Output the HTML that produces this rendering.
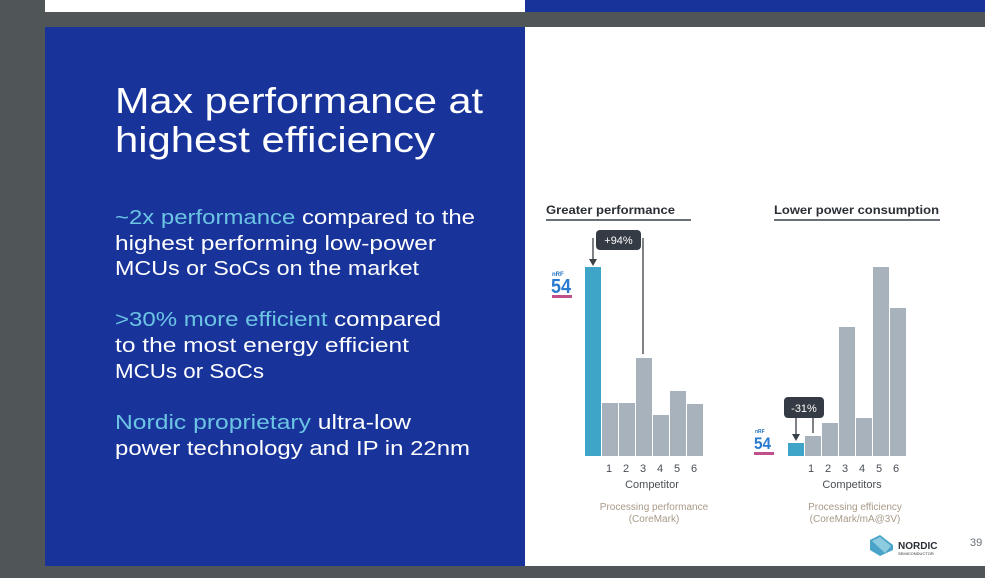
<!DOCTYPE html>
<html><head><meta charset="utf-8"><style>
html,body{margin:0;padding:0;background:#505558;}
svg{display:block;font-family:"Liberation Sans",sans-serif;}
</style></head><body>
<svg width="985" height="578" viewBox="0 0 985 578" xmlns="http://www.w3.org/2000/svg">
<rect width="985" height="578" fill="#505558"/>
<rect x="45" y="0" width="480" height="12" fill="#fff"/>
<rect x="525" y="0" width="460" height="12" fill="#18339a"/>
<rect x="45" y="27" width="480" height="539" fill="#18339a"/>
<rect x="525" y="27" width="460" height="539" fill="#fff"/>
<g fill="#fff" font-size="36">
<text x="115" y="113" textLength="368" lengthAdjust="spacingAndGlyphs">Max performance at</text>
<text x="115" y="152" textLength="320" lengthAdjust="spacingAndGlyphs">highest efficiency</text>
</g>
<g fill="#fff" font-size="20">
<text x="115" y="224" textLength="360" lengthAdjust="spacingAndGlyphs"><tspan fill="#6cc4e4">~2x performance</tspan> compared to the</text>
<text x="115" y="250" textLength="321" lengthAdjust="spacingAndGlyphs">highest performing low-power</text>
<text x="115" y="275" textLength="304" lengthAdjust="spacingAndGlyphs">MCUs or SoCs on the market</text>
<text x="115" y="326" textLength="326" lengthAdjust="spacingAndGlyphs"><tspan fill="#6cc4e4">&gt;30% more efficient</tspan> compared</text>
<text x="115" y="352" textLength="294" lengthAdjust="spacingAndGlyphs">to the most energy efficient</text>
<text x="115" y="378" textLength="149" lengthAdjust="spacingAndGlyphs">MCUs or SoCs</text>
<text x="115" y="429" textLength="296" lengthAdjust="spacingAndGlyphs"><tspan fill="#6cc4e4">Nordic proprietary</tspan> ultra-low</text>
<text x="115" y="455" textLength="355" lengthAdjust="spacingAndGlyphs">power technology and IP in 22nm</text>
</g>
<!-- left chart -->
<text x="546" y="214" font-size="12" font-weight="bold" fill="#2a2f35" textLength="129" lengthAdjust="spacingAndGlyphs">Greater performance</text>
<rect x="546" y="219" width="145" height="2" fill="#6a7078"/>
<rect x="585" y="267" width="16" height="189" fill="#3ea5c8"/>
<g fill="#a8b2bc">
<rect x="602" y="403" width="16" height="53"/><rect x="619" y="403" width="16" height="53"/>
<rect x="636" y="358" width="16" height="98"/><rect x="653" y="415" width="16" height="41"/>
<rect x="670" y="391" width="16" height="65"/><rect x="687" y="404" width="16" height="52"/>
</g>
<path d="M593 238 V262 M643 238 V354" stroke="#3a4047" stroke-width="1.3" fill="none"/>
<path d="M589 259 L597 259 L593 266 Z" fill="#3a4047"/>
<rect x="596" y="230" width="45" height="20" rx="4" fill="#343b44"/>
<text x="618.5" y="244" font-size="11" fill="#fff" text-anchor="middle">+94%</text>
<text x="552" y="276" font-size="6" font-weight="bold" fill="#1e6fc0">nRF</text>
<text x="551" y="293" font-size="20" font-weight="bold" fill="#2a7ad0" textLength="20" lengthAdjust="spacingAndGlyphs">54</text>
<rect x="552" y="295" width="20" height="3" fill="#c0508a"/>
<g font-size="11" fill="#4a4f55" text-anchor="middle">
<text x="609" y="472">1</text><text x="626" y="472">2</text><text x="643" y="472">3</text><text x="660" y="472">4</text><text x="677" y="472">5</text><text x="694" y="472">6</text>
<text x="652" y="488">Competitor</text>
</g>
<g font-size="10" fill="#a89a88" text-anchor="middle">
<text x="654" y="510">Processing performance</text><text x="654" y="522">(CoreMark)</text>
</g>
<!-- right chart -->
<text x="774" y="214" font-size="12" font-weight="bold" fill="#2a2f35" textLength="165" lengthAdjust="spacingAndGlyphs">Lower power consumption</text>
<rect x="774" y="219" width="166" height="2" fill="#6a7078"/>
<rect x="788" y="443" width="16" height="13" fill="#3ea5c8"/>
<g fill="#a8b2bc">
<rect x="805" y="436" width="16" height="20"/><rect x="822" y="423" width="16" height="33"/>
<rect x="839" y="327" width="16" height="129"/><rect x="856" y="418" width="16" height="38"/>
<rect x="873" y="267" width="16" height="189"/><rect x="890" y="308" width="16" height="148"/>
</g>
<path d="M796 416 V436 M813 416 V433" stroke="#3a4047" stroke-width="1.3" fill="none"/>
<path d="M792 434 L800 434 L796 441 Z" fill="#3a4047"/>
<rect x="784" y="397" width="40" height="21" rx="4" fill="#343b44"/>
<text x="804" y="412" font-size="11" fill="#fff" text-anchor="middle">-31%</text>
<text x="755" y="433" font-size="5" font-weight="bold" fill="#1e6fc0">nRF</text>
<text x="754" y="449" font-size="17" font-weight="bold" fill="#2a7ad0" textLength="17" lengthAdjust="spacingAndGlyphs">54</text>
<rect x="754" y="452" width="20" height="3" fill="#c0508a"/>
<g font-size="11" fill="#4a4f55" text-anchor="middle">
<text x="811" y="472">1</text><text x="828" y="472">2</text><text x="845" y="472">3</text><text x="862" y="472">4</text><text x="879" y="472">5</text><text x="896" y="472">6</text>
<text x="852" y="488">Competitors</text>
</g>
<g font-size="10" fill="#a89a88" text-anchor="middle">
<text x="855" y="510">Processing efficiency</text><text x="855" y="522">(CoreMark/mA@3V)</text>
</g>
<!-- logo -->
<path d="M870 540 L880 535 L893 545 L893 550 L880 556 L870 550 Z" fill="#4aa3c8"/>
<path d="M872 541 L880 537 L891 546 L885 553 Z" fill="#8ccbe0"/>
<text x="898" y="549" font-size="10" font-weight="bold" fill="#2a2f35">NORDIC</text>
<text x="898" y="555" font-size="4" fill="#2a2f35">SEMICONDUCTOR</text>
<text x="970" y="546" font-size="11" fill="#6a7078">39</text>
</svg>
</body></html>
